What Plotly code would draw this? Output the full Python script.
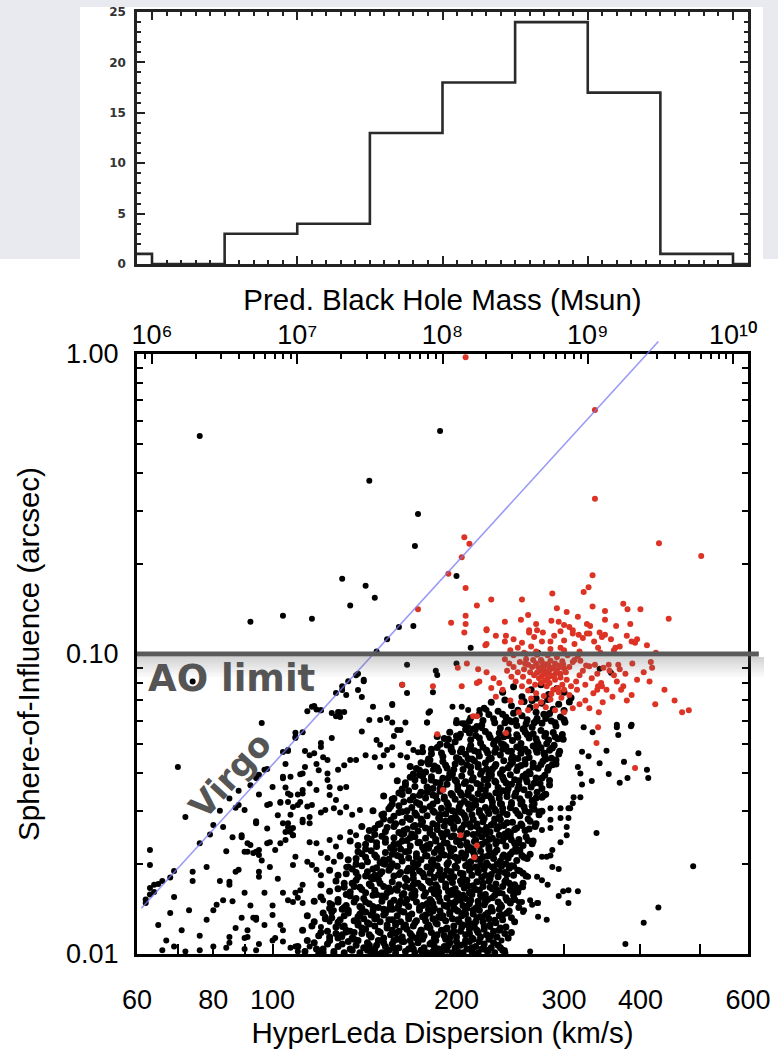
import math
import plotly.graph_objects as go

W, H = 778, 1058
FONT = "Liberation Sans, Arial, Helvetica, sans-serif"
BOLDFONT = "DejaVu Sans, Liberation Sans, sans-serif"

# ---------------- data ----------------
# histogram of predicted black-hole mass (log10 Msun bin edges)
hist_edges_logm = [5.5, 6.0, 6.5, 7.0, 7.5, 8.0, 8.5, 9.0, 9.5, 10.0, 10.5]
hist_counts = [1, 0, 3, 4, 13, 18, 24, 17, 1, 0]
hist_yticks = [0, 5, 10, 15, 20, 25]
hist_xticks = [6, 7, 8, 9, 10]

sigma_tickvals = [60, 80, 100, 200, 300, 400, 600]
sigma_ticktext = ["60", "80", "100", "200", "300", "400", "600"]
sigma_unlabeled_ticks = [70, 90, 500]
r_tickvals = [0.01, 0.1, 1.0]
r_ticktext = ["0.01", "0.10", "1.00"]
mass_tickvals = [1e6, 1e7, 1e8, 1e9, 1e10]
mass_ticktext = ["10\u2076", "10\u2077", "10\u2078", "10\u2079", "10\u00b9\u2070"]

ao_sigma = [60, 625]
ao_r = [0.1, 0.1]
virgo_sigma = [61, 428]
virgo_r = [0.0142, 1.10]

# points: flat pairs  sigma (km/s), sphere-of-influence (units of 1e-4 arcsec)
black_core = [
118,104, 121,101, 123,108, 126,102, 128,106, 131,101, 133,110, 135,103, 137,107, 139,101, 141,105, 143,109, 145,102, 147,104, 149,111, 151,101, 153,106, 155,103, 157,108, 159,101, 161,105, 163,110, 165,102, 167,104, 169,107, 171,101, 173,109, 175,103, 177,105, 179,101, 181,108, 183,102, 185,111, 187,104, 189,101, 191,106, 193,103, 195,109, 197,101, 199,105, 201,102, 203,107, 205,101, 208,104, 210,110, 212,102, 215,106, 217,101, 220,104, 222,108, 225,102, 228,105, 231,101, 234,107, 238,103, 124,111, 136,112, 144,107, 152,109, 160,112, 168,111, 176,112, 184,106, 192,112, 200,110, 207,111, 213,112, 186,101, 158,111, 148,100,
120,118, 124,114, 127,123, 130,116, 132,120, 135,113, 138,125, 140,117, 142,121, 145,114, 147,124, 150,118, 152,113, 154,122, 156,116, 159,125, 161,119, 163,114, 166,121, 168,117, 170,124, 172,113, 175,120, 177,115, 179,123, 182,118, 184,113, 186,126, 189,120, 191,115, 193,122, 196,117, 198,124, 200,114, 203,119, 205,125, 207,116, 210,121, 212,113, 214,123, 217,118, 219,114, 222,121, 224,116, 227,125, 230,119, 233,114, 236,122, 240,117, 128,113, 134,119, 144,126, 157,120, 165,125, 174,117, 181,122, 195,113, 209,125, 226,112, 243,113,
122,131, 125,138, 128,127, 131,134, 133,140, 136,129, 139,136, 141,131, 143,127, 146,139, 148,133, 150,128, 153,137, 155,130, 157,141, 160,134, 162,128, 164,138, 167,131, 169,136, 171,127, 174,140, 176,133, 178,129, 181,137, 183,131, 185,127, 188,139, 190,134, 192,129, 195,136, 197,131, 199,141, 202,128, 204,134, 206,138, 209,130, 211,126, 213,136, 216,132, 218,140, 221,128, 223,135, 226,131, 229,139, 232,127, 235,134, 238,130, 242,137, 246,132, 130,141, 138,127, 145,135, 152,141, 159,127, 180,141, 187,133, 201,139, 215,128, 228,140,
125,146, 128,152, 131,143, 134,156, 136,149, 139,144, 141,153, 144,147, 146,157, 149,143, 151,150, 153,155, 156,145, 158,151, 160,142, 163,157, 165,148, 167,144, 170,154, 172,149, 174,143, 177,156, 179,147, 181,152, 184,142, 186,158, 188,150, 191,145, 193,154, 195,148, 198,143, 200,156, 203,151, 205,145, 207,153, 210,147, 212,158, 215,142, 217,150, 220,155, 222,146, 225,152, 228,143, 231,157, 234,149, 237,144, 241,154, 245,148, 249,152, 132,158, 140,142, 148,158, 155,141, 162,150, 169,158, 183,147, 196,158, 208,142, 219,157, 235,141,
128,165, 131,172, 134,161, 137,176, 139,167, 142,160, 144,171, 147,163, 149,177, 152,168, 154,160, 157,174, 159,165, 161,170, 164,159, 166,176, 168,166, 171,162, 173,172, 175,168, 178,160, 180,175, 182,164, 185,170, 187,161, 189,177, 192,167, 194,162, 197,173, 199,165, 201,159, 204,171, 206,166, 208,176, 211,161, 213,169, 216,174, 218,163, 221,168, 223,158, 226,175, 229,165, 232,171, 235,160, 238,168, 241,176, 245,163, 249,170, 253,166, 136,168, 146,178, 156,162, 170,178, 184,159, 196,178, 210,160, 227,178, 244,172,
132,185, 135,192, 138,181, 140,197, 143,188, 145,180, 148,194, 150,185, 153,199, 155,190, 158,182, 160,196, 162,187, 165,179, 167,193, 170,184, 172,198, 174,189, 177,181, 179,195, 181,186, 184,180, 186,197, 188,191, 191,183, 193,199, 196,188, 198,181, 200,194, 203,186, 205,179, 207,197, 210,190, 212,183, 215,195, 217,187, 220,180, 222,192, 225,198, 228,184, 231,190, 234,181, 237,196, 240,187, 244,193, 248,183, 252,190, 257,186, 137,199, 147,183, 157,200, 169,191, 183,199, 195,180, 209,200, 219,198, 233,199, 246,197,
137,208, 140,216, 143,203, 145,221, 148,210, 150,202, 153,218, 155,207, 158,223, 160,213, 163,204, 165,219, 167,209, 170,201, 172,216, 175,206, 177,222, 179,212, 182,203, 184,218, 187,208, 189,224, 191,214, 194,202, 196,220, 199,210, 201,205, 204,217, 206,209, 209,222, 211,203, 214,214, 216,207, 219,220, 221,211, 224,201, 227,217, 230,208, 233,222, 236,204, 239,214, 243,209, 247,219, 251,205, 256,213, 261,208, 142,224, 152,200, 162,224, 173,200, 186,224, 198,224, 213,224, 226,224, 241,200, 254,222,
142,232, 145,241, 148,228, 151,247, 153,236, 156,226, 158,244, 161,233, 163,250, 166,239, 168,229, 171,246, 173,235, 176,227, 178,243, 181,232, 183,249, 185,238, 188,229, 190,245, 193,234, 195,226, 198,248, 200,237, 203,231, 205,244, 208,235, 210,227, 213,250, 215,240, 218,230, 220,246, 223,236, 226,228, 229,243, 232,233, 235,249, 238,238, 241,229, 245,245, 249,234, 253,241, 257,230, 262,239, 266,233, 147,250, 157,224, 169,251, 180,225, 192,251, 212,224, 224,251, 240,251, 250,225,
147,262, 150,272, 153,256, 156,279, 158,266, 161,254, 163,275, 166,261, 168,281, 171,268, 173,257, 176,276, 178,263, 181,253, 183,272, 186,260, 188,280, 191,267, 193,255, 196,274, 198,262, 201,278, 203,258, 206,270, 208,252, 211,265, 213,281, 216,271, 218,259, 221,276, 224,264, 227,255, 230,273, 233,261, 236,280, 239,268, 243,256, 247,275, 251,263, 255,271, 259,258, 264,277, 269,266, 152,282, 164,252, 175,282, 189,252, 200,282, 217,252, 231,282, 245,252, 262,282,
152,293, 155,305, 158,288, 161,312, 163,298, 166,285, 169,308, 171,295, 174,315, 176,302, 179,289, 181,310, 184,297, 187,284, 189,306, 192,293, 194,313, 197,300, 199,287, 202,309, 204,296, 207,283, 210,304, 212,291, 215,314, 218,301, 220,288, 223,308, 226,294, 229,311, 232,299, 235,286, 238,306, 242,292, 246,315, 250,301, 254,289, 258,309, 263,296, 268,304, 273,291, 157,316, 168,283, 183,316, 196,283, 209,316, 222,283, 237,316, 255,316, 276,299,
158,330, 161,344, 164,322, 167,350, 170,335, 172,320, 175,346, 178,331, 180,354, 183,339, 186,324, 188,349, 191,334, 193,319, 196,343, 199,328, 201,353, 204,338, 206,323, 209,347, 212,332, 214,318, 217,342, 220,327, 223,352, 226,337, 229,321, 232,345, 235,330, 238,350, 242,335, 246,320, 250,344, 254,329, 258,353, 262,338, 266,325, 271,346, 276,333, 280,341, 163,355, 174,317, 190,355, 203,317, 219,355, 236,317, 252,355, 268,317,
165,372, 168,388, 171,362, 174,395, 177,378, 179,360, 182,390, 185,373, 188,357, 190,385, 193,368, 196,396, 199,380, 201,363, 204,392, 207,375, 210,358, 213,387, 216,370, 219,397, 222,382, 225,365, 228,393, 231,377, 234,359, 238,389, 241,372, 245,396, 249,381, 253,364, 257,391, 261,375, 265,360, 270,386, 274,370, 279,394, 284,379, 170,398, 183,356, 197,398, 211,356, 226,398, 243,356, 260,398, 276,356,
172,415, 175,434, 178,404, 181,443, 184,423, 187,408, 190,438, 193,417, 196,401, 199,430, 202,446, 205,412, 208,427, 211,403, 214,440, 217,420, 220,406, 223,433, 226,446, 229,414, 232,428, 236,400, 239,441, 243,418, 247,435, 251,409, 255,425, 259,444, 263,405, 267,432, 272,416, 277,439, 282,410, 287,427, 291,443, 180,447, 195,399, 212,447, 228,399, 246,447, 264,399, 280,447,
182,465, 186,488, 190,455, 193,497, 197,472, 200,451, 204,482, 207,463, 211,495, 214,476, 218,457, 221,489, 225,468, 228,449, 232,484, 236,461, 239,498, 243,474, 247,455, 251,490, 255,467, 259,481, 263,452, 267,494, 271,470, 275,487, 279,459, 284,478, 289,496, 294,464, 188,500, 209,448, 230,501, 252,448, 272,501, 286,449, 196,480, 241,491,
191,523, 195,548, 199,510, 203,540, 207,560, 211,518, 215,535, 219,505, 223,552, 227,527, 231,512, 235,545, 239,530, 243,558, 247,515, 251,538, 255,503, 259,550, 263,525, 267,542, 271,509, 275,556, 279,532, 283,517, 288,547, 293,522, 298,539, 213,562, 237,502, 257,562, 281,502, 200,533,
206,585, 211,612, 216,573, 221,600, 226,628, 231,590, 236,567, 241,615, 246,595, 251,578, 256,622, 261,604, 266,570, 271,610, 276,588, 281,625, 286,598, 291,575, 296,617, 301,592, 218,630, 238,630, 258,564, 278,630, 244,600, 268,590,
222,660, 228,690, 234,645, 240,702, 246,672, 252,650, 258,695, 264,663, 270,640, 276,685, 282,705, 288,655, 294,680, 300,648, 306,692, 248,635, 266,700, 284,633,
238,745, 248,778, 256,720, 265,760, 275,790, 283,733, 292,768, 300,745, 308,715, 270,712,
]

black_fill = [
110,106, 113,102, 117,109, 121,104, 126,100, 130,108, 134,104, 138,111, 143,103, 148,107, 153,101, 158,105, 164,110, 170,104, 176,100, 182,109, 188,103, 194,107, 200,101, 206,108, 212,105, 218,110, 224,103, 230,109, 236,105, 114,111, 119,100, 240,101,
112,120, 116,124, 119,115, 123,119, 127,117, 131,124, 136,118, 140,122, 144,116, 149,119, 154,125, 159,117, 164,123, 169,115, 175,120, 180,125, 186,116, 192,121, 198,119, 204,123, 210,117, 216,120, 222,124, 228,115, 235,120, 241,123, 246,118,
114,134, 117,128, 121,137, 125,132, 129,130, 133,137, 138,133, 142,138, 147,131, 152,135, 157,130, 162,139, 167,134, 172,129, 178,135, 183,139, 189,132, 195,138, 201,130, 207,136, 213,140, 219,133, 225,137, 231,129, 238,135, 244,139, 249,128,
117,150, 120,155, 124,142, 128,149, 132,145, 137,153, 142,149, 146,144, 151,156, 156,148, 161,146, 166,152, 171,157, 176,145, 182,150, 187,155, 193,144, 199,149, 205,157, 211,151, 217,145, 223,149, 229,154, 236,146, 242,151, 248,157, 253,143,
120,170, 124,162, 127,175, 131,167, 135,172, 140,164, 145,169, 150,172, 155,166, 160,163, 165,168, 170,170, 176,166, 181,173, 186,167, 192,171, 197,163, 203,175, 209,169, 215,164, 221,172, 227,167, 233,163, 240,174, 246,167, 252,161, 257,172,
124,190, 128,183, 133,195, 137,187, 142,182, 146,192, 151,188, 156,194, 161,184, 166,189, 171,195, 176,186, 182,192, 187,184, 193,190, 199,196, 205,185, 211,193, 217,189, 223,183, 229,195, 235,188, 242,184, 248,196, 254,189, 260,182,
129,212, 133,206, 138,219, 142,210, 147,214, 152,206, 157,215, 162,211, 167,220, 172,210, 178,213, 183,206, 189,217, 195,212, 201,209, 207,214, 213,219, 219,207, 225,212, 231,218, 238,211, 245,215, 251,220, 258,210, 264,215,
134,238, 138,230, 143,244, 148,235, 153,242, 158,232, 163,238, 168,244, 174,236, 179,230, 185,241, 191,235, 196,246, 202,240, 208,231, 214,237, 220,232, 226,241, 233,237, 240,245, 246,240, 253,235, 260,246, 267,238,
140,266, 144,258, 149,270, 154,264, 159,272, 164,258, 170,266, 175,270, 181,261, 186,268, 192,277, 198,266, 204,262, 210,271, 216,266, 222,258, 228,269, 235,266, 242,274, 249,260, 256,268, 263,261, 270,272,
146,300, 151,291, 156,310, 161,296, 166,300, 172,290, 177,305, 183,300, 188,292, 194,304, 200,298, 206,290, 212,308, 218,296, 225,300, 231,304, 238,297, 245,307, 252,294, 259,300, 266,311, 273,298,
152,336, 157,328, 163,340, 168,326, 174,338, 179,346, 185,336, 191,329, 197,338, 203,345, 209,339, 215,325, 222,336, 228,330, 235,340, 242,346, 249,336, 256,322, 263,341, 270,331, 278,338,
160,378, 165,366, 171,381, 176,392, 182,380, 188,372, 194,386, 200,376, 206,370, 212,380, 219,366, 225,383, 232,374, 239,381, 246,368, 253,378, 260,384, 268,371, 276,386, 284,366,
168,422, 174,410, 180,430, 186,418, 192,426, 198,412, 204,436, 211,420, 217,428, 224,414, 231,422, 238,411, 245,428, 252,420, 259,430, 267,420, 275,428, 283,419, 291,430,
176,472, 182,481, 189,468, 196,490, 203,472, 210,481, 217,470, 224,478, 231,470, 238,481, 246,474, 254,485, 262,470, 270,480, 278,468, 287,486, 295,474,
186,531, 194,520, 202,528, 210,545, 218,525, 226,538, 234,520, 243,535, 252,528, 261,539, 270,522, 280,543, 290,530, 299,520,
200,590, 210,598, 220,580, 230,608, 240,590, 250,600, 260,586, 270,598, 280,610, 290,590, 300,604,
]

black_left = [
90,302, 94,277, 99,316, 103,319, 107,291, 110,314, 114,310, 116,314, 112,275, 115,273, 107,255, 108,249, 104,273, 106,265, 91,234, 94,219, 95,222, 98,234, 89,249, 103,234, 109,211, 108,198, 95,188, 95,181, 115,236, 118,234, 120,217, 114,203, 116,198, 118,191, 120,183, 112,170, 111,163, 109,160, 110,154, 112,148, 104,160, 94,132, 94,131, 103,125, 104,120, 106,151, 108,149, 120,155, 121,151, 124,148, 126,140, 122,133, 124,128, 120,123, 128,128, 130,123, 132,118, 130,114, 100,111, 104,110, 107,105, 109,106, 110,102, 113,102, 115,106, 120,103, 91,114, 94,103, 124,240, 127,228, 129,245, 134,255, 137,249, 123,209, 126,203, 129,214, 132,195, 137,201, 120,296, 122,302, 126,306, 129,296, 132,309, 135,291, 139,302,
100,145, 97,160, 102,178, 99,195, 96,205, 101,222, 105,240, 98,262, 102,290, 110,340, 115,370, 119,410, 123,380, 113,420, 118,430, 105,430, 100,360, 95,340, 92,365, 88,350, 85,330, 82,300, 79,250, 84,220, 78,195, 82,175, 90,160, 86,150, 92,145, 97,125, 100,135, 91,120, 87,122, 84,105, 95,108, 78,130, 73,140, 71,120, 72,102, 65,125,
]

black_sparse = [
70,420, 72,286, 63,222, 63,198, 62,152, 64,161, 65,171, 66,175, 68,180, 69,189, 76,234, 80,269, 83,265, 88,314, 94,386, 97,411, 104,471, 109,529, 128,641, 132,730, 137,850, 133,812, 130,780, 130,759, 127,741, 120,650, 109,546, 106,475, 98,414, 95,396, 63,166, 63,158, 62,148, 64,170,
68,137, 69,155, 74,175, 74,188, 87,307, 86,245, 89,245, 87,188, 88,191, 85,170, 85,174, 81,146, 80,140, 83,151, 92,231, 91,219, 95,214, 94,275, 89,132, 93,132, 94,130, 96,589, 98,314, 103,321, 99,236, 106,479, 112,548, 109,525, 116,667, 118,653, 125,636, 129,640, 129,617, 125,525, 120,490, 117,467, 134,443, 131,426, 128,411, 123,400, 104,390, 107,390, 111,397, 112,352, 118,352, 124,339, 129,357, 105,359, 107,339, 106,321, 108,309, 111,321, 115,286, 112,280,
66,103, 67,111, 69,106, 76,115, 76,103, 80,106, 85,109, 90,113, 90,104, 101,113, 85,114, 90,219, 93,217, 94,273, 106,273, 108,263, 105,255, 108,249,
117,671, 114,645, 120,650, 127,620, 131,641, 144,603, 150,603, 157,591, 160,558, 158,533, 140,552, 113,475, 120,505, 115,460, 121,453, 123,443, 112,400, 104,385, 106,343, 112,343, 124,360, 127,326, 132,360, 137,443, 142,460, 147,453, 148,517, 150,498, 152,460, 157,426, 150,420, 167,505, 170,479, 176,490, 179,437, 183,411, 181,645, 179,591, 197,667, 204,667, 209,651, 218,651, 224,651, 200,603, 204,588, 209,571, 215,558, 220,566, 166,741, 157,681, 146,667, 141,812, 138,759, 140,719, 183,745, 186,851,
157,676, 154,612, 162,558, 180,637, 179,591, 165,591, 157,489, 162,460, 154,479, 173,470, 166,453,
]

black_right = [
339,253, 428,143, 405,127, 378,108, 488,196, 294,192, 282,170, 299,162, 305,163, 316,162, 294,156, 305,148, 256,149, 264,151, 271,148, 272,148, 257,138, 272,133, 281,130, 234,120, 237,111, 240,103, 264,102, 276,211, 287,222, 285,213, 296,236, 303,249, 285,280, 296,284, 305,284, 307,306, 310,318, 319,333, 311,333, 321,367, 319,400, 316,420, 333,377, 343,432, 329,456, 321,472, 352,476, 355,398, 370,372, 381,386, 376,437, 397,467, 410,411, 412,386, 366,570, 368,537, 386,574, 323,570, 334,548, 296,306, 305,306, 285,306, 276,259, 285,263, 303,265, 281,211, 287,195, 276,176, 271,181, 262,181, 257,167, 248,163, 247,151, 238,159, 231,130, 227,123, 221,133, 253,149, 258,140, 266,146, 343,893, 358,866, 366,581, 387,581,
]

black_high = [
76,5330, 144,3780, 188,5540, 130,1780, 142,1690, 147,1540, 134,1450, 92,1280, 104,1340, 116,1310, 173,2930, 171,2290, 200,1820, 154,1120, 148,1020, 170,1240, 161,1230, 211,1050, 74,810, 138,860, 141,820, 166,920, 185,880, 200,930, 272,1010, 163,790,
]

red_pts = [
207,9750, 337,6510, 337,3290, 429,2340, 503,2120, 206,2450, 210,2330, 204,2100, 194,1850, 173,1410, 334,1830, 207,1660, 329,1670, 323,1610, 287,1590, 256,1520, 228,1520, 216,1450, 375,1470, 381,1410, 400,1410, 334,1440, 350,1390, 445,1310, 207,1340, 207,1260, 206,1180, 196,1270, 224,1210, 224,1080, 241,1150, 286,1290, 294,1280, 300,1250, 306,1230, 310,1200, 316,1330, 327,1260, 331,1240, 263,1200, 263,1180, 271,1200, 277,1180, 343,1180, 350,1160, 385,1260, 317,1160, 327,1170, 285,1100, 296,1050, 387,1100, 392,1090, 341,1050, 364,1050, 265,1060, 252,1050, 245,1030, 424,1010,
319,950, 330,910, 337,920, 355,920, 368,920, 388,930, 416,940, 414,810, 366,810, 341,780, 163,790, 201,900, 208,930, 218,810, 228,770, 183,780, 186,540, 190,352, 213,620, 217,890, 224,870, 230,830, 216,800, 204,780, 223,1070, 224,1200, 203,249, 216,230, 214,210, 241,545, 216,620, 392,417, 339,505, 341,570, 423,680, 468,640, 387,730, 375,780, 346,780, 340,760, 347,690,
276,940, 281,925, 285,950, 290,930, 294,915, 298,945, 272,905, 278,890, 283,870, 288,900, 292,880, 296,860, 300,895, 286,845, 280,860, 274,880, 270,930, 267,955, 262,920, 258,890, 264,870, 268,850, 273,830, 279,815, 284,800, 290,820, 296,835, 302,870, 306,905, 310,940, 303,820, 298,790, 293,770, 288,760, 281,780, 275,800, 269,790, 263,810, 257,840, 252,870, 248,905, 254,940, 260,960, 244,930, 250,810, 256,780, 262,755, 270,740, 278,725, 286,735, 294,745, 300,760, 308,780, 314,810, 318,850, 322,880, 326,915, 312,955, 316,985, 304,990, 292,975, 282,990, 271,995, 260,1000, 248,990, 240,960, 242,880, 246,840, 283,915, 287,895, 277,910, 291,865, 284,885, 279,870, 289,850, 295,905, 299,925, 275,955, 266,905, 259,930, 271,868, 276,845, 282,828,
235,800, 238,760, 232,720, 245,700, 255,690, 265,710, 275,690, 285,705, 297,715, 306,730, 315,760, 325,790, 333,830, 340,860, 348,900, 356,880, 362,850, 370,890, 378,860, 345,800, 352,760, 335,740, 325,700, 318,680, 310,660, 300,640, 290,650, 280,665, 270,670, 262,650, 253,640, 330,660, 342,640, 360,720, 372,760, 380,700, 395,820, 405,870, 418,900, 438,760, 455,700, 480,650,
248,1120, 256,1090, 268,1140, 276,1100, 289,1150, 300,1110, 312,1080, 322,1130, 336,1100, 346,1140, 358,1120, 370,1060, 380,1150, 395,1120, 410,1070, 300,1030, 285,1040, 270,1020, 258,1010, 240,1100, 232,1150, 318,1020, 344,1010, 362,1030, 330,1170, 310,1170, 296,1190, 270,1260, 255,1300, 240,1280, 350,1300, 365,1240, 303,1380, 292,1420, 262,1350,
]


def unpack(flat):
    n = len(flat) // 2 * 2
    return flat[0:n:2], [v * 1e-4 for v in flat[1:n:2]]


# ---------------- geometry (pixels -> paper) ----------------
def pxx(p):
    return p / W


def pxy(p):
    return 1 - p / H


X_DOM = [pxx(137), pxx(748)]
SC_DOM = [pxy(954), pxy(354)]
HI_DOM = [pxy(264), pxy(12)]
OV_XDOM = [pxx(137), pxx(762)]
OV_YDOM = [pxy(954), pxy(338)]
SIG_RANGE = [math.log10(60), math.log10(600)]
OV_XRANGE = [SIG_RANGE[0], SIG_RANGE[0] + (SIG_RANGE[1] - SIG_RANGE[0]) * (762 - 137) / (748 - 137)]
OV_YRANGE = [-2, -2 + 2 * (954 - 338) / (954 - 354)]
MASS_RANGE = [5.8967, 10.1033]

fig = go.Figure()

# histogram (step outline)
fig.add_trace(go.Scatter(
    x=hist_edges_logm, y=hist_counts + [hist_counts[-1]], mode="lines",
    line=dict(shape="hv", color="#2a2a2a", width=2.6),
    xaxis="x3", yaxis="y3", hoverinfo="skip"))

# invisible helper so the top mass axis is drawn
fig.add_trace(go.Scatter(x=mass_tickvals, y=[None] * len(mass_tickvals), mode="markers",
                         marker=dict(opacity=0), xaxis="x2", yaxis="y", hoverinfo="skip"))

core_s, core_r = [], []
for lst in (black_core, black_fill):
    s, r = unpack(lst)
    core_s += s
    core_r += r
bs, br = [], []
for lst in (black_left, black_sparse, black_right, black_high):
    s, r = unpack(lst)
    bs += s
    br += r
rs, rr = unpack(red_pts)

fig.add_trace(go.Scatter(x=core_s, y=core_r, mode="markers",
                         marker=dict(size=7, color="black", line=dict(width=0)),
                         xaxis="x", yaxis="y", hoverinfo="skip"))
fig.add_trace(go.Scatter(x=bs, y=br, mode="markers",
                         marker=dict(size=6, color="black", line=dict(width=0)),
                         xaxis="x", yaxis="y", hoverinfo="skip"))
fig.add_trace(go.Scatter(x=rs, y=rr, mode="markers",
                         marker=dict(size=6, color="#dc3324", line=dict(width=0)),
                         xaxis="x", yaxis="y", hoverinfo="skip"))

# overlay subplot with the same scale (lets the lines run slightly past the frame)
fig.add_trace(go.Scatter(x=virgo_sigma, y=virgo_r, mode="lines",
                         line=dict(color="rgba(120,120,240,0.75)", width=1.6),
                         xaxis="x4", yaxis="y4", hoverinfo="skip"))
fig.add_trace(go.Scatter(x=ao_sigma, y=ao_r, mode="lines",
                         line=dict(color="#5a5a5a", width=5),
                         xaxis="x4", yaxis="y4", hoverinfo="skip"))

shapes = [
    dict(type="rect", xref="paper", yref="paper", x0=0, x1=1, y0=pxy(259), y1=1,
         fillcolor="#e8eaef", line=dict(width=0), layer="below"),
    dict(type="rect", xref="paper", yref="paper", x0=pxx(80), x1=pxx(763), y0=pxy(262), y1=pxy(7),
         fillcolor="white", line=dict(width=0), layer="below"),
]
# soft shadow beneath the AO-limit bar
for i in range(8):
    y_top = 657 + i * 2.5
    shapes.append(dict(type="rect", xref="paper", yref="paper",
                       x0=pxx(137), x1=pxx(764), y0=pxy(y_top + 2.5), y1=pxy(y_top),
                       fillcolor="#6e6e6e", opacity=0.30 * (1 - i / 8.0),
                       line=dict(width=0), layer="above"))

annotations = [
    dict(text="AO limit", xref="x", yref="y", x=math.log10(85.8), y=-1.083,
         showarrow=False, font=dict(family=BOLDFONT, size=37, color="#555555", weight="bold")),
    dict(text="Virgo", xref="x", yref="y", x=math.log10(85.2), y=-1.403,
         showarrow=False, textangle=-47.5,
         font=dict(family=BOLDFONT, size=34, color="#555555", weight="bold")),
]

r_minor = [k * 10.0 ** e for e in (-2, -1) for k in range(2, 10)]
mass_minor = [8e5, 9e5] + [k * 10.0 ** e for e in range(6, 10) for k in range(2, 10)]
hist_xminor = [round(5.9 + 0.1 * i, 1) for i in range(43)]
hist_yminor = list(range(0, 26))

tickfont = dict(family=FONT, size=27, color="black")
titlefont = dict(family=FONT, size=29.5, color="black")

fig.update_layout(
    width=W, height=H, margin=dict(l=0, r=0, t=0, b=0),
    paper_bgcolor="white", plot_bgcolor="rgba(0,0,0,0)",
    template="none", showlegend=False,
    shapes=shapes, annotations=annotations,
    xaxis=dict(domain=X_DOM, anchor="y", type="log", range=SIG_RANGE,
               tickmode="array", tickvals=sigma_tickvals, ticktext=sigma_ticktext,
               ticks="inside", ticklen=10, tickwidth=2, tickcolor="black",
               minor=dict(tickmode="array", tickvals=sigma_unlabeled_ticks, ticks="inside",
                          ticklen=10, tickwidth=2, tickcolor="black", showgrid=False),
               showline=True, linewidth=3, linecolor="black", mirror=True,
               showgrid=False, zeroline=False, tickfont=tickfont, ticklabelstandoff=20,
               title=dict(text="HyperLeda Dispersion (km/s)", font=titlefont, standoff=8)),
    yaxis=dict(domain=SC_DOM, anchor="x", type="log", range=[-2, 0],
               tickmode="array", tickvals=r_tickvals, ticktext=r_ticktext,
               ticks="inside", ticklen=12, tickwidth=2, tickcolor="black",
               minor=dict(tickmode="array", tickvals=r_minor, ticks="inside", ticklen=6,
                          tickwidth=2, tickcolor="black", showgrid=False),
               showline=True, linewidth=3, linecolor="black", mirror="ticks",
               showgrid=False, zeroline=False, tickfont=tickfont, ticklabelstandoff=10,
               title=dict(text="Sphere-of-Influence (arcsec)", font=titlefont, standoff=18)),
    xaxis2=dict(overlaying="x", side="top", anchor="y", type="log", range=MASS_RANGE,
                tickmode="array", tickvals=mass_tickvals, ticktext=mass_ticktext,
                ticks="inside", ticklen=10, tickwidth=2, tickcolor="black",
                minor=dict(tickmode="array", tickvals=mass_minor, ticks="inside", ticklen=5,
                           tickwidth=1.5, tickcolor="black", showgrid=False),
                showline=False, showgrid=False, zeroline=False,
                tickfont=dict(family=FONT, size=27, color="black"), ticklabelstandoff=4,
                title=dict(text="Pred. Black Hole Mass (Msun)", font=titlefont, standoff=0)),
    xaxis3=dict(domain=X_DOM, anchor="y3", range=MASS_RANGE,
                tickmode="array", tickvals=hist_xticks, showticklabels=False,
                ticks="inside", ticklen=8, tickwidth=1.5, tickcolor="#222",
                minor=dict(tickmode="array", tickvals=hist_xminor, ticks="inside", ticklen=4,
                           tickwidth=1.5, tickcolor="#222", showgrid=False),
                showline=True, linewidth=2.5, linecolor="#222", mirror="ticks",
                showgrid=False, zeroline=False),
    yaxis3=dict(domain=HI_DOM, anchor="x3", range=[0, 25],
                tickmode="array", tickvals=hist_yticks,
                ticks="inside", ticklen=8, tickwidth=1.5, tickcolor="#222",
                minor=dict(tickmode="array", tickvals=hist_yminor, ticks="inside", ticklen=4,
                           tickwidth=1.5, tickcolor="#222", showgrid=False),
                showline=True, linewidth=2.5, linecolor="#222", mirror="ticks",
                showgrid=False, zeroline=False,
                tickfont=dict(family=BOLDFONT, size=12, color="#333", weight="bold"),
                ticklabelstandoff=6),
    xaxis4=dict(domain=OV_XDOM, anchor="y4", type="log", range=OV_XRANGE, visible=False,
                showgrid=False, zeroline=False),
    yaxis4=dict(domain=OV_YDOM, anchor="x4", type="log", range=OV_YRANGE, visible=False,
                showgrid=False, zeroline=False),
)

fig.write_html("out.html")
